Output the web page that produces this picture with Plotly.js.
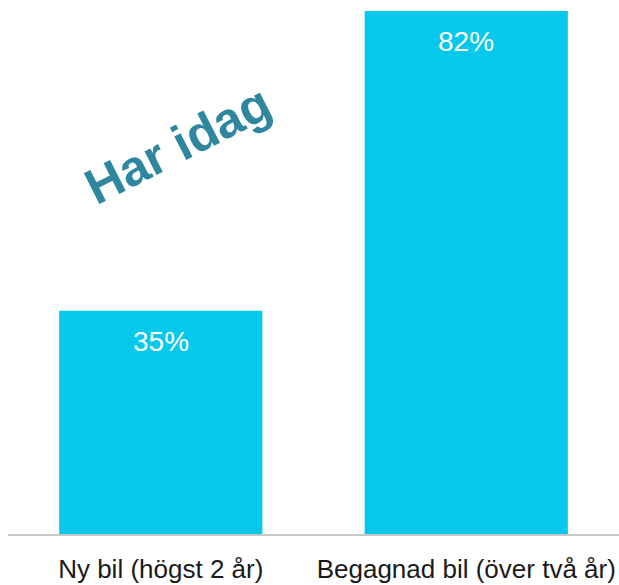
<!DOCTYPE html>
<html>
<head>
<meta charset="utf-8">
<script src="https://cdn.plot.ly/plotly-3.0.1.min.js"></script>
<style>html,body{margin:0;padding:0;background:#fff;}#chart{width:619px;height:585px;}</style>
</head>
<body>
<div id="chart"></div>
<script>
const categories = ["Ny bil (högst 2 år)", "Begagnad bil (över två år)"];
const values = [35, 82];
const valueLabels = ["35%", "82%"];
const overlayText = "Har idag";

const barColor = "#04c8ec";

const trace = {
  type: "bar",
  x: categories,
  y: values,
  marker: {color: barColor, line: {width: 0}},
  hoverinfo: "none",
  textposition: "none"
};

const annotations = categories.map((c, i) => ({
  x: c, y: values[i], xref: "x", yref: "y",
  text: valueLabels[i], showarrow: false,
  yanchor: "middle", yshift: -31,
  font: {family: "Liberation Sans, Arial, sans-serif", size: 28, color: "#ffffff"}
}));
annotations.push({
  xref: "paper", yref: "paper",
  x: (178 - 8) / 611, y: (534 - 145) / 534,
  xanchor: "center", yanchor: "middle",
  text: "<b>" + overlayText + "</b>", showarrow: false, textangle: -27,
  font: {family: "Liberation Sans, Arial, sans-serif", size: 50, color: "#2f879f"}
});

const layout = {
  width: 619, height: 585,
  margin: {l: 8, r: 0, t: 0, b: 51},
  paper_bgcolor: "#ffffff", plot_bgcolor: "#ffffff",
  bargap: 0.335,
  showlegend: false,
  xaxis: {
    type: "category",
    showline: true, linecolor: "#c8c8c8", linewidth: 1.5,
    showgrid: false, zeroline: false, ticks: "",
    ticklabelstandoff: 11,
    tickfont: {family: "Liberation Sans, Arial, sans-serif", size: 26, color: "#1a1a1a"}
  },
  yaxis: {
    range: [0, 83.72], visible: false, showgrid: false, zeroline: false, fixedrange: true
  },
  annotations: annotations
};

Plotly.newPlot("chart", [trace], layout, {staticPlot: true, displayModeBar: false});
</script>
</body>
</html>
